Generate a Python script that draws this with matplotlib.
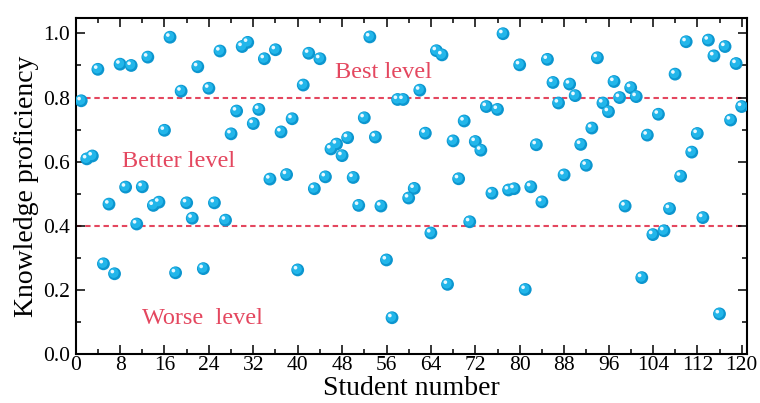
import matplotlib.pyplot as plt
import matplotlib.transforms as mtransforms
from matplotlib.ticker import MultipleLocator
import numpy as np

# student index 1..120
students = np.arange(1, 121)

# knowledge proficiency of each student
proficiency = [
    0.790, 0.609, 0.618, 0.888, 0.282, 0.468, 0.251, 0.904, 0.521, 0.900,
    0.406, 0.522, 0.926, 0.464, 0.474, 0.698, 0.988, 0.254, 0.820, 0.472,
    0.424, 0.896, 0.267, 0.829, 0.472, 0.945, 0.418, 0.687, 0.758, 0.959,
    0.972, 0.719, 0.763, 0.921, 0.546, 0.949, 0.693, 0.560, 0.734, 0.263,
    0.839, 0.938, 0.516, 0.921, 0.553, 0.640, 0.655, 0.619, 0.675, 0.551,
    0.464, 0.737, 0.989, 0.677, 0.462, 0.294, 0.114, 0.794, 0.794, 0.487,
    0.517, 0.823, 0.689, 0.378, 0.946, 0.933, 0.218, 0.665, 0.547, 0.727,
    0.413, 0.663, 0.636, 0.772, 0.502, 0.763, 0.999, 0.512, 0.516, 0.902,
    0.202, 0.522, 0.653, 0.475, 0.919, 0.847, 0.783, 0.559, 0.842, 0.806,
    0.654, 0.589, 0.705, 0.924, 0.783, 0.756, 0.850, 0.800, 0.462, 0.831,
    0.803, 0.239, 0.683, 0.373, 0.748, 0.385, 0.454, 0.873, 0.555, 0.974,
    0.630, 0.688, 0.426, 0.979, 0.930, 0.126, 0.959, 0.730, 0.906, 0.772,
]

level_lines = [0.8, 0.4]
level_labels = ["Best level", "Better level", "Worse  level"]
label_pos = [(55.5, 0.879), (18.6, 0.602), (22.8, 0.111)]

plt.rcParams['font.family'] = ['Liberation Serif', 'DejaVu Serif']
red = '#e4475f'

fig = plt.figure(figsize=(7.6, 4.03), dpi=100)
ax = fig.add_axes([0.0996, 0.1208, 0.8829, 0.8338])

# threshold lines
for yv in level_lines:
    ax.hlines(yv, 0, 120, colors=red, linestyles=(0, (2.6, 1.8)), linewidth=1.5, zorder=1)

# glossy sphere markers: base + lighter inner + highlight
ax.scatter(students, proficiency, s=85, color='#0c96cf', edgecolors='none', zorder=3)
tr1 = mtransforms.offset_copy(ax.transData, fig=fig, x=-0.8, y=0.8, units='dots')
ax.scatter(students, proficiency, s=50, color='#22b6ea', edgecolors='none', zorder=4, transform=tr1)
tr2 = mtransforms.offset_copy(ax.transData, fig=fig, x=-2.2, y=2.2, units='dots')
ax.scatter(students, proficiency, s=7, color='#e8f8ff', edgecolors='none', zorder=5, transform=tr2)

for txt, (xt, yt) in zip(level_labels, label_pos):
    ax.text(xt, yt, txt, color=red, fontsize=17.5, ha='center', va='center')

ax.set_xlim(0, 120.9)
ax.set_ylim(0, 1.047)
ax.xaxis.set_major_locator(MultipleLocator(8))
ax.xaxis.set_minor_locator(MultipleLocator(4))
ax.yaxis.set_major_locator(MultipleLocator(0.2))
ax.yaxis.set_minor_locator(MultipleLocator(0.1))
ax.yaxis.set_major_formatter(plt.FormatStrFormatter('%.1f'))

ax.tick_params(which='both', direction='in', top=True, right=True, labelsize=15.5, width=1.1)
ax.tick_params(axis='x', pad=1)
ax.tick_params(axis='y', pad=4)
ax.tick_params(which='major', length=6.5)
ax.tick_params(which='minor', length=3.5)
for sp in ax.spines.values():
    sp.set_linewidth(1.5)

ax.set_xlabel('Student number', fontsize=20, labelpad=1)
ax.set_ylabel('Knowledge proficiency', fontsize=20, labelpad=3)

fig.savefig('out.png', dpi=100)
